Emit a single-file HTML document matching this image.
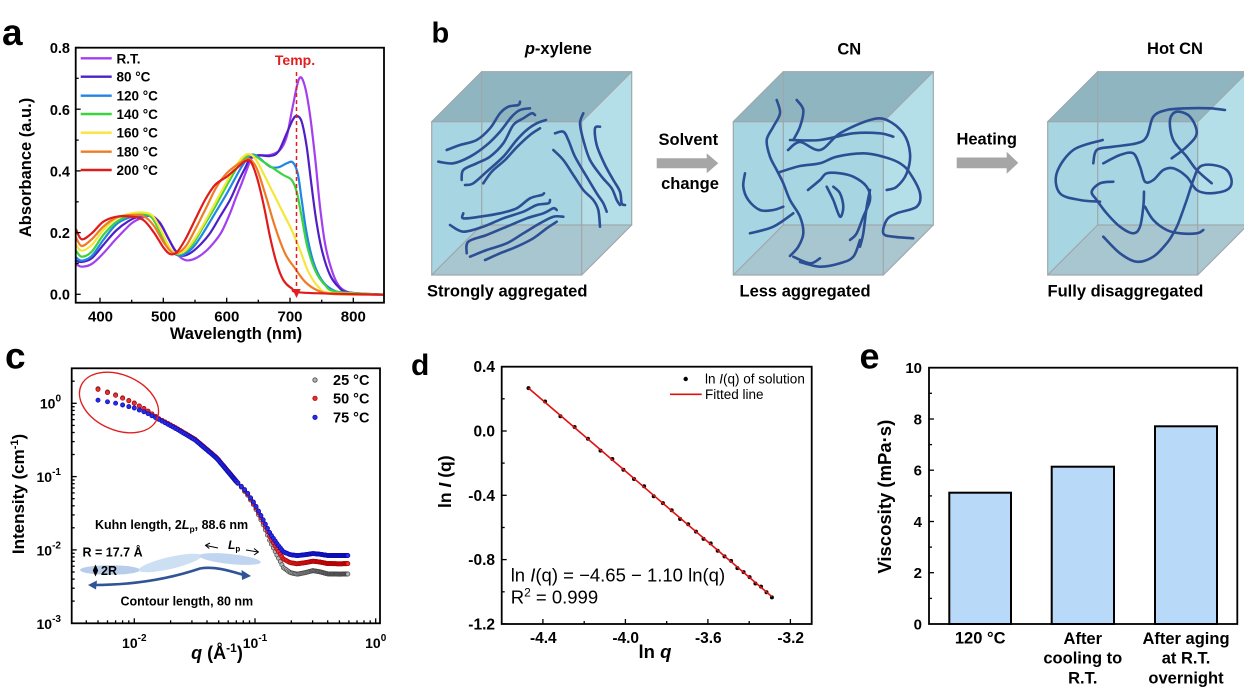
<!DOCTYPE html>
<html><head><meta charset="utf-8">
<style>
html,body{margin:0;padding:0;background:#fff;}
svg{display:block;font-family:"Liberation Sans",Arial,sans-serif;font-weight:bold;}
.n{font-weight:normal;}
</style></head><body>
<svg id="s" width="1244" height="700" viewBox="0 0 1244 700" xmlns="http://www.w3.org/2000/svg">
<defs>
<clipPath id="ca"><rect x="75.7" y="47.7" width="308.3" height="255"/></clipPath>
<clipPath id="cc"><rect x="71.7" y="368.3" width="308.3" height="255"/></clipPath>
</defs>
<rect width="1244" height="700" fill="#fff"/>

<!-- ========== Panel a ========== -->
<text x="2" y="45" font-size="37">a</text>
<g id="ga" clip-path="url(#ca)"></g>
<g id="ta" stroke="#000" stroke-width="1.3"></g>
<rect x="75.7" y="47.7" width="308.3" height="255" fill="none" stroke="#000" stroke-width="1.8"/>
<g font-size="14.5" text-anchor="end">
<text x="70" y="299.5">0.0</text>
<text x="70" y="238">0.2</text>
<text x="70" y="176.4">0.4</text>
<text x="70" y="114.8">0.6</text>
<text x="70" y="53.2">0.8</text>
</g>
<g font-size="15" text-anchor="middle">
<text x="100.5" y="321.7">400</text>
<text x="163.5" y="321.7">500</text>
<text x="226.8" y="321.7">600</text>
<text x="290" y="321.7">700</text>
<text x="353.3" y="321.7">800</text>
</g>
<text x="236" y="339" font-size="16.5" text-anchor="middle">Wavelength (nm)</text>
<text transform="translate(31,167.5) rotate(-90)" font-size="16.5" text-anchor="middle">Absorbance (a.u.)</text>
<g id="lega" stroke-width="2.4"></g>
<g font-size="13.5">
<text x="116.5" y="63.3">R.T.</text>
<text x="116.5" y="81.7">80 °C</text>
<text x="116.5" y="100.7">120 °C</text>
<text x="116.5" y="119">140 °C</text>
<text x="116.5" y="137.7">160 °C</text>
<text x="116.5" y="156.7">180 °C</text>
<text x="116.5" y="175">200 °C</text>
</g>
<text x="295" y="65" font-size="14" fill="#e02020" text-anchor="middle">Temp.</text>
<line x1="296.5" y1="72" x2="296.5" y2="291" stroke="#e02020" stroke-width="1.5" stroke-dasharray="4,3"/>
<polygon points="292.3,289 300.7,289 296.5,298" fill="#e02020"/>

<!-- ========== Panel b ========== -->
<text x="431.5" y="42.3" font-size="29">b</text>
<text x="558.3" y="54" font-size="16.5" text-anchor="middle"><tspan font-style="italic">p</tspan>-xylene</text>
<text x="849.3" y="54.5" font-size="16.5" text-anchor="middle">CN</text>
<text x="1175" y="54" font-size="16.5" text-anchor="middle">Hot CN</text>
<g id="cubes"></g>
<g id="chains" fill="none" stroke="#2c4f94" stroke-width="2.6" stroke-linecap="round" stroke-linejoin="round"></g>
<text x="427" y="296.7" font-size="16.5">Strongly aggregated</text>
<text x="739.5" y="296.7" font-size="16.5">Less aggregated</text>
<text x="1047.5" y="296.7" font-size="16.5">Fully disaggregated</text>
<text x="688.3" y="145" font-size="16.5" text-anchor="middle">Solvent</text>
<text x="690" y="189" font-size="16.5" text-anchor="middle">change</text>
<polygon points="656.7,158.3 706.7,158.3 706.7,153.3 718.3,163.3 706.7,173.3 706.7,168.3 656.7,168.3" fill="#a6a6a6"/>
<text x="986.7" y="144.5" font-size="16.5" text-anchor="middle">Heating</text>
<polygon points="956.7,157.5 1006.7,157.5 1006.7,151.7 1018.3,162.9 1006.7,173.8 1006.7,168.3 956.7,168.3" fill="#a6a6a6"/>

<!-- ========== Panel c ========== -->
<text x="5" y="368.3" font-size="37">c</text>
<g id="tc" stroke="#000" stroke-width="1.3"></g>
<ellipse cx="110" cy="570" rx="30" ry="4.8" fill="#b7cdea"/>
<ellipse cx="170" cy="563" rx="32" ry="6" fill="#cddff3" transform="rotate(-13 170 563)"/>
<ellipse cx="230" cy="559" rx="31" ry="5" fill="#c0d6f0" transform="rotate(6 230 559)"/>
<path d="M93,585 C120,585 160,582 200,568.5 C215,566 230,571 244,575" fill="none" stroke="#2f5597" stroke-width="2.6"/>
<polygon points="88,585 97,580.5 96,589.5" fill="#2f5597"/>
<polygon points="251,576 241.5,570 242,580" fill="#2f5597"/>
<text x="82.5" y="556.5" font-size="12.5">R = 17.7 Å</text>
<polygon points="95.5,564.5 98.2,570.5 95.5,576.5 92.8,570.5" fill="#000"/>
<text x="101" y="575" font-size="12.5">2R</text>
<text x="95" y="529" font-size="12.5">Kuhn length, 2<tspan font-style="italic">L</tspan><tspan font-size="8.5" dy="3">p</tspan><tspan dy="-3">, 88.6 nm</tspan></text>
<text x="120.5" y="605.5" font-size="12.5">Contour length, 80 nm</text>
<line x1="206" y1="545.5" x2="218" y2="548" stroke="#000" stroke-width="1"/>
<polyline points="210,543 205.5,545.4 209.3,548.5" fill="none" stroke="#000" stroke-width="1"/>
<text x="228" y="549" font-size="12" font-style="italic">L<tspan font-size="8" dy="2.5" font-style="normal">p</tspan></text>
<line x1="246" y1="550" x2="258" y2="552" stroke="#000" stroke-width="1"/>
<polyline points="254,548.5 258.4,552 254,555" fill="none" stroke="#000" stroke-width="1"/>
<g id="gc" clip-path="url(#cc)"></g>
<ellipse cx="119" cy="402.5" rx="41.5" ry="27.5" transform="rotate(24 119 402.5)" fill="none" stroke="#e02020" stroke-width="1.4"/>
<rect x="71.7" y="368.3" width="308.3" height="255" fill="none" stroke="#000" stroke-width="1.8"/>
<g id="legc"></g>
<g font-size="14.5">
<text x="333" y="385">25 °C</text>
<text x="333" y="403.5">50 °C</text>
<text x="333" y="422.5">75 °C</text>
</g>
<g font-size="14" text-anchor="end">
<text x="61" y="408.5">10<tspan dy="-7" font-size="10">0</tspan></text>
<text x="61" y="482">10<tspan dy="-7" font-size="10">-1</tspan></text>
<text x="61" y="555.5">10<tspan dy="-7" font-size="10">-2</tspan></text>
<text x="61" y="629">10<tspan dy="-7" font-size="10">-3</tspan></text>
</g>
<g font-size="14" text-anchor="middle">
<text x="134.3" y="648">10<tspan dy="-7" font-size="10">-2</tspan></text>
<text x="255" y="648">10<tspan dy="-7" font-size="10">-1</tspan></text>
<text x="375.7" y="648">10<tspan dy="-7" font-size="10">0</tspan></text>
</g>
<text x="217" y="659" font-size="18" text-anchor="middle"><tspan font-style="italic">q</tspan> (Å<tspan dy="-7" font-size="12">-1</tspan><tspan dy="7">)</tspan></text>
<text transform="translate(24,494) rotate(-90)" font-size="17" text-anchor="middle">Intensity (cm<tspan dy="-6" font-size="11">-1</tspan><tspan dy="6">)</tspan></text>

<!-- ========== Panel d ========== -->
<text x="411" y="375" font-size="30">d</text>
<g id="td" stroke="#000" stroke-width="1.3"></g>
<g id="gd"></g>
<rect x="501.7" y="366.7" width="310" height="257.3" fill="none" stroke="#000" stroke-width="1.8"/>
<g font-size="15.5" text-anchor="end">
<text x="495" y="372.2">0.4</text>
<text x="495" y="436.5">0.0</text>
<text x="495" y="500.8">-0.4</text>
<text x="495" y="565.2">-0.8</text>
<text x="495" y="629.5">-1.2</text>
</g>
<g font-size="15.5" text-anchor="middle">
<text x="543.3" y="643">-4.4</text>
<text x="625.7" y="643">-4.0</text>
<text x="708.3" y="643">-3.6</text>
<text x="790.7" y="643">-3.2</text>
</g>
<text x="655" y="658" font-size="18.5" text-anchor="middle">ln <tspan font-style="italic">q</tspan></text>
<text transform="translate(451,481.7) rotate(-90)" font-size="17.5" text-anchor="middle">ln <tspan font-style="italic">I</tspan> (q)</text>
<circle cx="685.7" cy="379" r="2.2" fill="#000"/>
<line x1="670" y1="394.3" x2="701.7" y2="394.3" stroke="#e01010" stroke-width="1.6"/>
<g class="n" font-size="13.5" font-weight="normal">
<text x="705" y="383.5">ln <tspan font-style="italic">I</tspan>(q) of solution</text>
<text x="705" y="399">Fitted line</text>
</g>
<g font-size="18.5" font-weight="normal">
<text x="510.7" y="581.7">ln <tspan font-style="italic">I</tspan>(q) = −4.65 − 1.10 ln(q)</text>
<text x="510.7" y="603.3">R<tspan dy="-7" font-size="12">2</tspan><tspan dy="7"> = 0.999</tspan></text>
</g>

<!-- ========== Panel e ========== -->
<text x="859.5" y="368.3" font-size="36">e</text>
<g stroke="#000" stroke-width="2" fill="#b9d9f9">
<rect x="949.3" y="492.7" width="61.7" height="131.3"/>
<rect x="1051.7" y="466.7" width="62.3" height="157.3"/>
<rect x="1155" y="426.3" width="62" height="197.7"/>
</g>
<g id="te" stroke="#000" stroke-width="1.3"></g>
<rect x="929" y="367.7" width="308.3" height="256.3" fill="none" stroke="#000" stroke-width="1.8"/>
<g font-size="15" text-anchor="end">
<text x="922" y="629.3">0</text>
<text x="922" y="578">2</text>
<text x="922" y="526.8">4</text>
<text x="922" y="475.5">6</text>
<text x="922" y="424.3">8</text>
<text x="922" y="373">10</text>
</g>
<g font-size="16.5" text-anchor="middle">
<text x="980.2" y="643.3">120 °C</text>
<text x="1082.8" y="644">After</text>
<text x="1082.8" y="663.5">cooling to</text>
<text x="1082.8" y="683.5">R.T.</text>
<text x="1186" y="644">After aging</text>
<text x="1186" y="663.5">at R.T.</text>
<text x="1186" y="683.5">overnight</text>
</g>
<text transform="translate(891,496.7) rotate(-90)" font-size="18.5" text-anchor="middle">Viscosity (mPa·s)</text>
</svg>
<script>
(function(){
var NS='http://www.w3.org/2000/svg';
function el(p,t,a){var e=document.createElementNS(NS,t);for(var k in a)e.setAttribute(k,a[k]);p.appendChild(e);return e;}
function $(id){return document.getElementById(id);}
function f(v){return v.toFixed(1);}
function cr(p){var d='M'+f(p[0][0])+' '+f(p[0][1]);for(var i=0;i<p.length-1;i++){var a=p[i-1]||p[i],b=p[i],c=p[i+1],e=p[i+2]||c;d+=' C'+f(b[0]+(c[0]-a[0])/6)+' '+f(b[1]+(c[1]-a[1])/6)+' '+f(c[0]-(e[0]-b[0])/6)+' '+f(c[1]-(e[1]-b[1])/6)+' '+f(c[0])+' '+f(c[1]);}return d;}

/* ---- panel a ---- */
var A=[
['#a33ff0',[[228,792],[245,800],[275,792],[310,760],[350,715],[395,670],[430,652],[455,648],[480,668],[505,715],[530,760],[555,780],[580,778],[610,760],[640,730],[665,695],[690,640],[705,600],[725,550],[742,505],[755,475],[775,466],[810,465],[840,450],[860,410],[878,320],[897,237],[912,250],[928,330],[945,470],[960,620],[975,730],[995,810],[1015,855],[1040,875],[1080,882],[1155,884]]],
['#4f1fc6',[[228,782],[245,786],[275,775],[310,735],[350,690],[395,658],[430,647],[455,647],[480,670],[505,715],[525,750],[545,767],[570,760],[600,735],[630,700],[660,650],[690,600],[715,545],[735,505],[752,472],[775,466],[810,468],[835,455],[860,400],[878,360],[890,348],[905,365],[920,440],[935,560],[950,670],[968,760],[990,825],[1015,860],[1045,877],[1155,884]]],
['#1f86e6',[[228,772],[245,782],[275,768],[310,720],[350,672],[395,650],[430,646],[455,652],[480,690],[505,740],[530,765],[555,762],[585,735],[615,690],[645,640],[675,590],[700,545],[725,500],[748,468],[765,465],[785,480],[810,500],[835,502],[860,490],[878,487],[893,520],[905,600],[920,700],[940,785],[965,840],[995,868],[1040,880],[1155,884]]],
['#3dd33d',[[228,752],[245,770],[275,755],[310,705],[350,665],[395,645],[430,642],[455,652],[480,695],[505,745],[528,762],[550,758],[580,730],[610,680],[640,630],[670,575],[695,530],[720,490],[745,467],[765,468],[790,485],[820,505],[850,525],[875,540],[890,575],[905,650],[922,740],[945,810],[975,855],[1010,875],[1155,884]]],
['#f5e639',[[228,735],[245,752],[275,735],[310,690],[350,655],[395,640],[435,638],[460,650],[485,695],[510,745],[530,760],[555,752],[585,715],[615,665],[645,610],[675,555],[700,510],[725,475],[745,462],[765,475],[790,520],[820,580],[850,640],[875,690],[900,750],[925,815],[955,860],[990,878],[1155,884]]],
['#ef7b25',[[228,712],[245,738],[275,718],[310,680],[350,652],[395,645],[430,648],[460,675],[490,725],[515,757],[535,758],[560,735],[590,680],[620,620],[650,560],[680,520],[710,495],[735,480],[750,478],[770,505],[795,580],[825,680],[855,760],[885,805],[915,845],[950,870],[1000,882],[1155,884]]],
['#e01b1b',[[228,688],[245,718],[275,700],[310,665],[350,650],[395,650],[430,660],[460,695],[490,742],[510,762],[530,757],[555,720],[585,660],[615,600],[645,555],[680,530],[710,505],[735,484],[752,485],[770,530],[790,610],[810,710],[830,790],[850,840],[875,865],[910,878],[1155,884]]]
];
var ga=$('ga'),lega=$('lega');
var ly=[58.3,76.7,95.7,114,132.7,151.7,170];
A.forEach(function(c,i){
  var pts=c[1].map(function(p){return [p[0]/3,p[1]/3];});
  el(ga,'path',{d:cr(pts),fill:'none',stroke:c[0],'stroke-width':2.2,'stroke-linejoin':'round'});
  el(lega,'line',{x1:80.7,y1:ly[i],x2:111.7,y2:ly[i],stroke:c[0]});
});
var ta=$('ta');
for(var k=0;k<=8;k++){var y=294.3-k*0.1*308.5;var L=(k%2==0)?5:3;el(ta,'line',{x1:75.7,y1:f(y),x2:75.7+L,y2:f(y)});}
for(var lam=400;lam<=800;lam+=50){var x=100+(lam-400)*0.6333;var L=(lam%100==0)?5:3;el(ta,'line',{x1:f(x),y1:302.7,x2:f(x),y2:302.7-L});}

/* ---- panel b cubes ---- */
var cubes=$('cubes');
function cube(fx,fy){var w=150,h=153.3,d=50;
 function P(a){return a.map(function(p){return f(p[0])+','+f(p[1]);}).join(' ');}
 el(cubes,'polygon',{points:P([[fx,fy],[fx+w,fy],[fx+w+d,fy-d],[fx+d,fy-d]]),fill:'#8fb6c0'});
 el(cubes,'polygon',{points:P([[fx+w,fy],[fx+w+d,fy-d],[fx+w+d,fy+h-d],[fx+w,fy+h]]),fill:'#b4dfe9'});
 el(cubes,'rect',{x:f(fx),y:f(fy),width:w,height:h,fill:'#a7d5e2'});
 el(cubes,'polygon',{points:P([[fx,fy+h],[fx+d,fy+h-d],[fx+w+d,fy+h-d],[fx+w,fy+h]]),fill:'#a9c4cd','fill-opacity':0.9});
 var g=el(cubes,'g',{stroke:'#9ea7ab','stroke-width':1.2,fill:'none'});
 el(g,'rect',{x:f(fx+d),y:f(fy-d),width:w,height:h});
 el(g,'rect',{x:f(fx),y:f(fy),width:w,height:h});
 [[0,0],[w,0],[0,h],[w,h]].forEach(function(o){el(g,'line',{x1:f(fx+o[0]),y1:f(fy+o[1]),x2:f(fx+o[0]+d),y2:f(fy+o[1]-d)});});
}
cube(431.7,121.7);cube(733.3,121.7);cube(1047.7,121.7);

var chains=$('chains');
function z9(a){return a.map(function(p){return [420+p[0]/3,60+p[1]/3];});}
var C1=[
[[80,270],[120,255],[170,240],[210,205],[240,160],[265,140],[295,135],[300,125]],
[[55,305],[100,310],[150,290],[200,255],[240,215],[275,170],[300,150],[330,145]],
[[125,360],[130,330],[170,310],[210,290],[250,250],[280,195],[310,175],[335,160],[345,165]],
[[135,375],[160,370],[200,335],[250,290],[290,240],[320,210],[350,190],[378,180]],
[[190,370],[215,335],[255,300],[290,262],[330,225],[360,205]],
[[405,220],[430,215],[445,240],[465,290],[500,350],[530,400],[550,430],[560,455]],
[[400,270],[430,300],[460,345],[490,390],[520,420],[535,450],[540,500]],
[[490,160],[480,190],[490,240],[510,300],[545,350],[575,385],[590,420],[600,435]],
[[540,200],[525,205],[530,255],[555,315],[580,360],[600,395],[605,430],[615,435]],
[[130,460],[130,475],[180,470],[240,460],[290,445],[330,415],[365,405],[372,400]],
[[90,495],[130,515],[190,500],[250,475],[310,455],[350,435],[385,430],[390,420]],
[[140,580],[145,545],[200,525],[260,500],[320,475],[370,460],[400,445],[410,450]],
[[150,590],[200,570],[260,550],[310,520],[360,490],[400,470],[430,470]],
[[195,600],[240,580],[290,560],[340,535],[380,505],[410,485]]
];
C1.forEach(function(c){el(chains,'path',{d:cr(z9(c))});});
var C2=[
[[776.7,100],[780,113.3],[773.3,126.7],[766.7,140],[770,156.7],[776.7,170],[783.3,183.3],[790,200],[800,216.7],[803.3,233.3],[798.3,246.7],[790,256]],
[[745,173.3],[743.3,186.7],[748.3,200],[760,210],[773.3,210],[783.3,206.7]],
[[796.7,100],[803.3,110],[800,126.7],[793.3,140]],
[[750,233.3],[773.3,226.7],[793.3,213.3]],
[[793.3,256.7],[810,263.3],[820,258.3]],
[[788,150],[800,142],[820,150],[840,133.3],[870,120],[886.7,120],[903.3,133.3],[910,153.3],[906.7,173.3],[896.7,186.7],[886.7,190]],
[[780,172],[800,166],[820,163.3],[836.7,156.7],[863.3,153.3],[883.3,156.7],[900,163.3],[910,173.3],[920,193.3],[916.7,206.7],[896.7,213.3],[886.7,220],[883.3,233.3],[893.3,236.7],[913.3,238.3]],
[[790,140],[820,140],[853.3,133.3],[880,133.3],[893.3,136.7]],
[[826.7,186.7],[833.3,200],[840,216.7],[843.3,206.7],[840,193.3],[833.3,186.7]],
[[808,190],[820,180],[826.7,173.3],[840,173.3],[853.3,176.7],[866.7,186.7],[870,200],[863.3,216.7],[856.7,233.3],[850,240]],
[[870,190],[866.7,206.7],[863.3,233.3],[860,246.7]],
[[800,262],[820,266.7],[840,263.3],[853.3,256.7],[860,240]]
];
C2.forEach(function(c){el(chains,'path',{d:cr(c)});});
var C3=[
[[1102.7,140],[1073.3,150],[1056.7,173.3],[1060,193.3],[1080,200],[1100,201.7]],
[[1103.3,163.3],[1120,155],[1133.3,153.3],[1140,166.7],[1145,181.7],[1153.3,180],[1163.3,170],[1173.3,168.3],[1186.7,176.7],[1196.7,190],[1210,193.3],[1226.7,190],[1231.7,181.7],[1226.7,170],[1213.3,165],[1200,166.7],[1193.3,180],[1186.7,200],[1178.3,223.3],[1173.3,233.3],[1166.7,243.3],[1153.3,256.7],[1136.7,261.7],[1120,253.3],[1103.3,236.7]],
[[1093.3,163.3],[1096.7,150],[1113.3,146.7],[1136.7,143.3],[1146.7,136.7],[1153.3,116.7],[1166.7,110],[1186.7,108.3],[1210,108.3],[1225,110]],
[[1171.7,158.3],[1186.7,146.7],[1196.7,133.3],[1190,116.7],[1176.7,111.7],[1170,120],[1173.3,140],[1186.7,156.7],[1196.7,170],[1211.7,183.3]],
[[1113.3,181.7],[1100,183.3],[1091.7,191.7],[1096.7,200],[1106.7,213.3],[1120,226.7],[1133.3,233.3],[1140,226.7],[1143.3,206.7],[1144,191.7]],
[[1145,206.7],[1153.3,220],[1166.7,230],[1180,233.3],[1196.7,233.3],[1203.3,230]]
];
C3.forEach(function(c){el(chains,'path',{d:cr(c)});});

/* ---- panel c ---- */
var tc=$('tc');
for(var e=-3;e<=0;e++){for(var m=1;m<=9;m++){var v=e+Math.log10(m);if(v>0.47)continue;var y=403.3-v*73.3;el(tc,'line',{x1:71.7,y1:f(y),x2:71.7+(m==1?5:3),y2:f(y)});}}
for(var e=-3;e<=0;e++){for(var m=1;m<=9;m++){var v=e+Math.log10(m);if(v<-2.515||v>0.03)continue;var x=134.3+(v+2)*120.7;el(tc,'line',{x1:f(x),y1:623.3,x2:f(x),y2:623.3-(m==1?5:3)});}}
var BC=[[-2.35,0.06],[-2.312,0.045],[-2.15,0.0],[-2.0,-0.064],[-1.9,-0.13],[-1.787,-0.228],[-1.65,-0.35],[-1.497,-0.5],[-1.317,-0.75],[-1.152,-1.07],[-1.069,-1.206],[-1.0,-1.38],[-0.931,-1.592],[-0.876,-1.774],[-0.82,-1.91],[-0.766,-2.025],[-0.71,-2.065],[-0.65,-2.078],[-0.58,-2.065],[-0.52,-2.05],[-0.46,-2.06],[-0.4,-2.075],[-0.3,-2.078],[-0.2,-2.075]];
function interp(cp,x){for(var i=0;i<cp.length-1;i++){if(x<=cp[i+1][0]){var t=(x-cp[i][0])/(cp[i+1][0]-cp[i][0]);return cp[i][1]+t*(cp[i+1][1]-cp[i][1]);}}return cp[cp.length-1][1];}
var qs=[];for(var q=0.005;q<=0.0705;q+=0.001)qs.push(q);for(var q=0.072;q<=0.59;q+=0.005)qs.push(q);
var gc=$('gc');
var S=[{B:0.0046,lo:0.15,fill:'#b4b4b4',st:'#4a4a4a'},{B:0.0064,lo:0.14,fill:'#e83030',st:'#b00000'},{B:0.0083,lo:0,fill:'#2a2ae8',st:'#0c0cb0'}];
S.forEach(function(s,si){
  var g=el(gc,'g',{fill:s.fill,stroke:s.st,'stroke-width':0.7});
  qs.forEach(function(q){
    var lq=Math.log10(q);var Ib=Math.pow(10,interp(BC,lq));
    var I=Math.max(Ib-0.0083,0)+s.B;var lI=Math.log10(I);
    if(si<2){if(lq<-1.8)lI+=s.lo*(-1.8-lq)/0.512;if(lq<-1.1)lI+=0.012;}
    var x=134.3+(lq+2)*120.7,y=403.3-lI*73.3;
    el(g,'circle',{cx:f(x),cy:f(y),r:2.1});
  });
});
var legc=$('legc');
el(legc,'circle',{cx:315,cy:380,r:2.2,fill:'#b4b4b4',stroke:'#4a4a4a','stroke-width':0.8});
el(legc,'circle',{cx:315,cy:398.3,r:2.2,fill:'#e83030',stroke:'#b00000','stroke-width':0.8});
el(legc,'circle',{cx:315,cy:417.3,r:2.2,fill:'#2a2ae8',stroke:'#0c0cb0','stroke-width':0.8});

/* ---- panel d ---- */
var td=$('td');
function dx(x){return 501.7+(x+4.6)*206.25;}function dy(y){return 366.7+(0.4-y)*160.75;}
for(var k=0;k<=8;k++){var v=0.4-k*0.2;var y=dy(v);el(td,'line',{x1:501.7,y1:f(y),x2:501.7+(k%2==0?5:3),y2:f(y)});}
[-4.4,-4.2,-4.0,-3.8,-3.6,-3.4,-3.2].forEach(function(v,i){var x=dx(v);el(td,'line',{x1:f(x),y1:624,x2:f(x),y2:624-(i%2==0?5:3)});});
var gd=$('gd');
var q0=Math.exp(-4.47),q1=Math.exp(-3.29);
var gp=el(gd,'g',{fill:'#000'});
for(var i=0;i<28;i++){var q=q0+(q1-q0)*i/27;var x=Math.log(q);var y=-4.65-1.10*x+0.006*Math.sin(i*2.3);el(gp,'circle',{cx:f(dx(x)),cy:f(dy(y)),r:2});}
el(gd,'line',{x1:f(dx(-4.47)),y1:f(dy(-4.65+1.10*4.47)),x2:f(dx(-3.29)),y2:f(dy(-4.65+1.10*3.29)),stroke:'#e01010','stroke-width':1.6});

/* ---- panel e ---- */
var te=$('te');
for(var v=1;v<=9;v++){var y=624-v*25.63;el(te,'line',{x1:929,y1:f(y),x2:929+(v%2==0?5:3),y2:f(y)});}
})();
</script>
</body></html>
